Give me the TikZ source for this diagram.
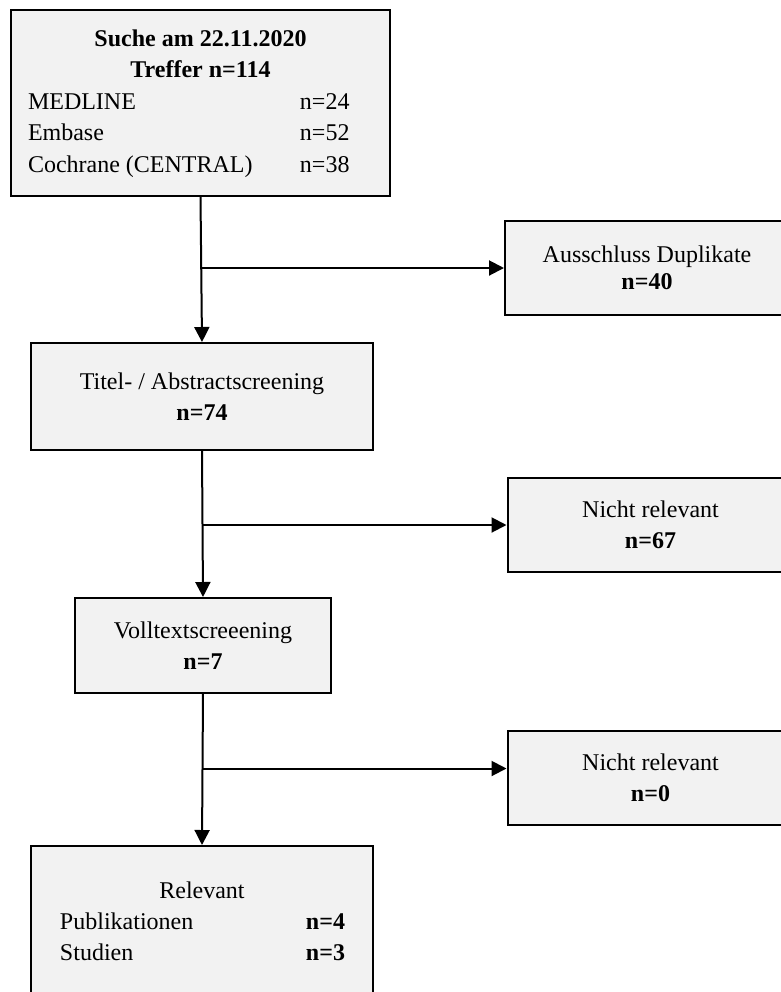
\documentclass[tikz,border=0pt]{standalone}
\usepackage{fontspec}
\setmainfont{Liberation Serif}
\usetikzlibrary{arrows.meta}
\definecolor{boxgray}{HTML}{F2F2F2}

\begin{document}
\begin{tikzpicture}[x=0.5pt,y=-0.5pt,
  box/.style={draw, fill=boxgray, line width=1pt, inner sep=0pt, align=center,
    font=\fontsize{12}{15.5}\selectfont},
  flow/.style={line width=1pt, -{Triangle[length=7.5pt,width=7.5pt]}}]

\useasboundingbox (0,0) rectangle (781,992);

\node[box, minimum width=189.5pt, minimum height=93pt,
  font=\fontsize{12}{15.75}\selectfont] (suche) at (200.5,103)
  {\begin{tabular}{@{}p{136pt}@{}p{36.5pt}@{}}
   \multicolumn{2}{c}{\textbf{Suche am 22.11.2020}}\\
   \multicolumn{2}{c}{\textbf{Treffer n=114}}\\
   MEDLINE & n=24\\
   Embase & n=52\\
   Cochrane (CENTRAL) & n=38
   \end{tabular}};
\node[box, minimum width=142pt, minimum height=47pt] (dupl) at (647,268)
  {Ausschluss Duplikate\\[-2pt]\textbf{n=40}};
\node[box, minimum width=171pt, minimum height=53.5pt] (titel) at (202,396.5)
  {Titel- / Abstractscreening\\\textbf{n=74}};
\node[box, minimum width=143pt, minimum height=47pt] (nr1) at (650.5,525)
  {Nicht relevant\\\textbf{n=67}};
\node[box, minimum width=128pt, minimum height=47.5pt] (voll) at (203,645.5)
  {Volltextscreeening\\\textbf{n=7}};
\node[box, minimum width=143pt, minimum height=47.25pt] (nr2) at (650.5,778)
  {Nicht relevant\\\textbf{n=0}};
\node[box, minimum width=171pt, minimum height=77pt] (rel) at (202,923)
  {\begin{tabular}{@{}p{123pt}@{}p{19pt}@{}}
   \multicolumn{2}{c}{Relevant}\\
   Publikationen & \textbf{n=4}\\
   Studien & \textbf{n=3}
   \end{tabular}};

\coordinate (nr2in) at ([yshift=4.75pt]nr2.west);

\draw[flow] (suche.south) -- (titel.north);
\draw[flow] (titel.south) -- (voll.north);
\draw[flow] (voll.south) -- (rel.north);

\draw[flow] (suche.south |- dupl.west) -- (dupl.west);
\draw[flow] (titel.south |- nr1.west) -- (nr1.west);
\draw[flow] (voll.south |- nr2in) -- (nr2in);

\end{tikzpicture}
\end{document}
